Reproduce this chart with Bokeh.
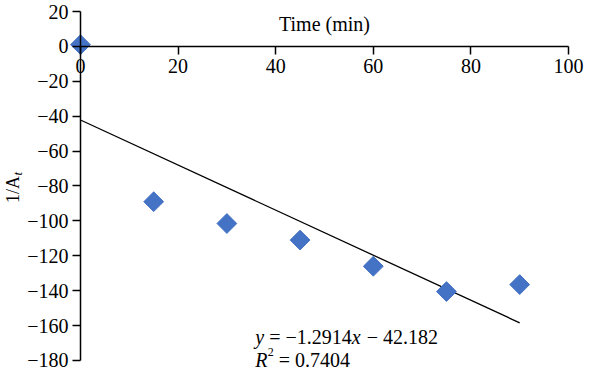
import math
from bokeh.plotting import figure
from bokeh.models import Label, FixedTicker
from bokeh.embed import file_html
from bokeh.resources import INLINE

# ---- data ----
TIME_MIN = [0, 15, 30, 45, 60, 75, 90]
INV_A = [1, -89, -101.5, -111, -126, -140.5, -136.5]
SLOPE = -1.2914
INTERCEPT = -42.182
R_SQUARED = 0.7404
X_TICKS = [0, 20, 40, 60, 80, 100]
Y_TICKS = [-180, -160, -140, -120, -100, -80, -60, -40, -20, 0, 20]
X_TITLE = "Time (min)"
Y_TITLE = "1/A"
Y_TITLE_SUB = "t"

FONT = "Liberation Serif"
BLUE = "#4472C4"

# the frame fills the whole canvas; axes are pinned at x=0 / y=0
p = figure(width=584, height=372, x_range=(-16.39, 103.28), y_range=(-186.88, 26.30),
           output_backend="svg", toolbar_location=None,
           min_border_left=0, min_border_right=0,
           min_border_top=0, min_border_bottom=0)
p.outline_line_color = None
p.grid.visible = False

def minus(v):
    return ("\u2212" + str(abs(v))) if v < 0 else str(v)

# axes
p.xaxis.ticker = FixedTicker(ticks=X_TICKS, minor_ticks=[])
p.yaxis.ticker = FixedTicker(ticks=Y_TICKS, minor_ticks=[])
p.yaxis.major_label_overrides = {v: minus(v) for v in Y_TICKS}
p.xaxis.fixed_location = 0
p.yaxis.fixed_location = 0
p.xaxis.bounds = (min(X_TICKS), max(X_TICKS))
p.yaxis.bounds = (min(Y_TICKS), max(Y_TICKS))
for ax in (p.xaxis, p.yaxis):
    ax.axis_line_color = "black"
    ax.axis_line_width = 1.5
    ax.major_tick_line_color = "black"
    ax.major_tick_line_width = 1.5
    ax.major_tick_in = 0
    ax.minor_tick_out = 0
    ax.minor_tick_in = 0
    ax.major_label_text_font = FONT
    ax.major_label_text_font_size = "20px"
    ax.major_label_text_color = "black"
p.xaxis.major_tick_out = 8
p.xaxis.major_label_standoff = 5
p.yaxis.major_tick_out = 8
p.yaxis.major_label_standoff = 4

# trend line
tx = [min(TIME_MIN), max(TIME_MIN)]
ty = [SLOPE * x + INTERCEPT for x in tx]
p.line(tx, ty, line_color="black", line_width=1.3)

# data points
p.scatter(TIME_MIN, INV_A, marker="square", angle=math.pi / 4, size=14,
          fill_color=BLUE, line_color=BLUE)

def lab(text, x, y, size="20px", style="normal", **kw):
    p.add_layout(Label(x=x, y=y, text=text, text_font=FONT, text_font_size=size,
                       text_font_style=style, text_color="black", **kw))

# axis titles
lab(X_TITLE, 50, 12.9, text_align="center", text_baseline="middle")
lab(Y_TITLE, -13.93, -89.7, size="18px", angle=math.pi / 2,
    text_align="left", text_baseline="middle")
lab(Y_TITLE_SUB, -13.0, -74.0, size="13px", style="italic", angle=math.pi / 2,
    text_align="left", text_baseline="middle")

# equation of the trend line
EQ_X = 35.8
lab("y", EQ_X, -166.3, style="italic", text_baseline="alphabetic")
lab("= " + minus(SLOPE), EQ_X, -166.3, x_offset=14, text_baseline="alphabetic")
lab("x", EQ_X, -166.3, x_offset=96.5, style="italic", text_baseline="alphabetic")
lab("\u2212 " + str(abs(INTERCEPT)), EQ_X, -166.3, x_offset=111.5,
    text_baseline="alphabetic")
lab("R", EQ_X, -179.5, style="italic", text_baseline="alphabetic")
lab("2", EQ_X, -174.9, x_offset=12.5, size="12px", text_baseline="alphabetic")
lab("= " + str(R_SQUARED), EQ_X, -179.5, x_offset=23.5, text_baseline="alphabetic")

open("out.html", "w").write(file_html(p, INLINE))
